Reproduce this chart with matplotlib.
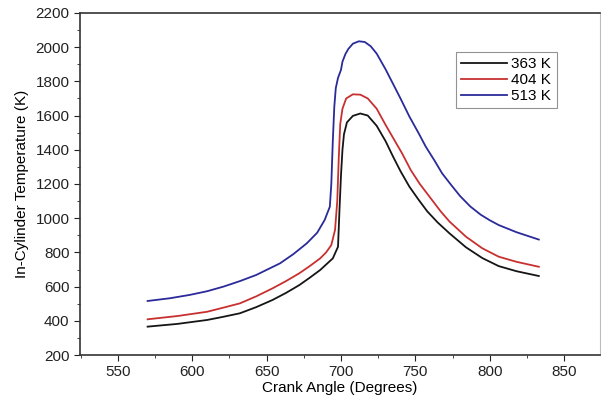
import numpy as np
import matplotlib
matplotlib.use('Agg')
import matplotlib.pyplot as plt
from matplotlib.ticker import MultipleLocator

plt.rcParams['font.family'] = ['Liberation Sans', 'DejaVu Sans']

# crank angle (deg) / in-cylinder temperature (K)
ang_363 = [570, 590, 610, 620, 632, 643, 654, 663, 672, 679, 686, 694.5, 698, 699, 700, 701, 702, 704,
           708, 713, 718, 724, 730, 735, 740, 746, 752, 758, 765, 773, 784, 795, 806, 818, 833]
temp_363 = [366, 382, 405, 422, 444, 480, 522, 563, 609, 652, 697, 765, 833, 1050, 1250, 1400, 1490, 1560,
            1598, 1612, 1600, 1540, 1450, 1360, 1275, 1184, 1110, 1040, 975, 911, 830, 767, 720, 690, 662]

ang_404 = [570, 590, 610, 620, 632, 643, 654, 663, 672, 679, 686, 690, 693.5, 696, 697.5, 698.5, 699.5,
           701, 703.5, 708, 713, 718, 724, 730, 735, 741, 747, 753, 760, 767, 773, 784, 795, 806, 818, 833]
temp_404 = [409, 428, 453, 475, 502, 543, 590, 632, 678, 720, 765, 800, 843, 931, 1100, 1350, 1550,
            1640, 1700, 1724, 1722, 1700, 1640, 1545, 1470, 1380, 1280, 1200, 1120, 1040, 980, 892, 824, 775, 745, 716]

ang_513 = [570, 585, 598, 610, 621, 632, 643, 651, 659, 668, 677, 684, 689, 692.5, 693.5, 694.5, 695.5,
           696.5, 698, 700, 701, 703, 705, 708, 712, 716, 720, 724, 730, 735, 740, 746, 752, 757, 763,
           768, 774, 780, 787, 794, 800, 806, 818, 833]
temp_513 = [516, 532, 551, 573, 600, 632, 668, 702, 736, 790, 853, 915, 989, 1067, 1200, 1450, 1650,
            1760, 1820, 1867, 1915, 1960, 1990, 2020, 2034, 2030, 2005, 1962, 1870, 1785, 1700, 1594, 1500, 1418, 1335,
            1262, 1195, 1130, 1068, 1020, 988, 960, 918, 875]

fig = plt.figure(figsize=(6.01, 4.03), dpi=100)
ax = fig.add_axes([0.133, 0.119, 0.865, 0.849])

ax.plot(ang_363, temp_363, color='#151515', lw=1.3, label='363 K')
ax.plot(ang_404, temp_404, color='#c83030', lw=1.3, label='404 K')
ax.plot(ang_513, temp_513, color='#2a2a9a', lw=1.3, label='513 K')

ax.set_xlim(524.5, 874)
ax.set_ylim(200, 2200)
ax.xaxis.set_major_locator(MultipleLocator(50))
ax.xaxis.set_minor_locator(MultipleLocator(25))
ax.yaxis.set_major_locator(MultipleLocator(200))
ax.yaxis.set_minor_locator(MultipleLocator(100))
ax.tick_params(which='both', direction='out', top=False, right=False, labelsize=11, colors='#222222')
ax.tick_params(which='major', length=4)
ax.tick_params(which='minor', length=2.5)
for s in ax.spines.values():
    s.set_color('#333333')
    s.set_linewidth(1.2)
ax.spines['right'].set_color('#bbbbbb')
ax.spines['right'].set_linewidth(0.8)

ax.set_xlabel('Crank Angle (Degrees)', fontsize=11, labelpad=1)
ax.set_ylabel('In-Cylinder Temperature (K)', fontsize=11, labelpad=5)

leg = ax.legend(loc='upper right', bbox_to_anchor=(0.917, 0.886), fontsize=11, frameon=True,
                fancybox=False, handlelength=3.0, handletextpad=0.3, borderpad=0.35,
                labelspacing=0.12, borderaxespad=0)
leg.get_frame().set_edgecolor('#777777')
leg.get_frame().set_linewidth(0.8)

fig.savefig('out.png', dpi=100)
